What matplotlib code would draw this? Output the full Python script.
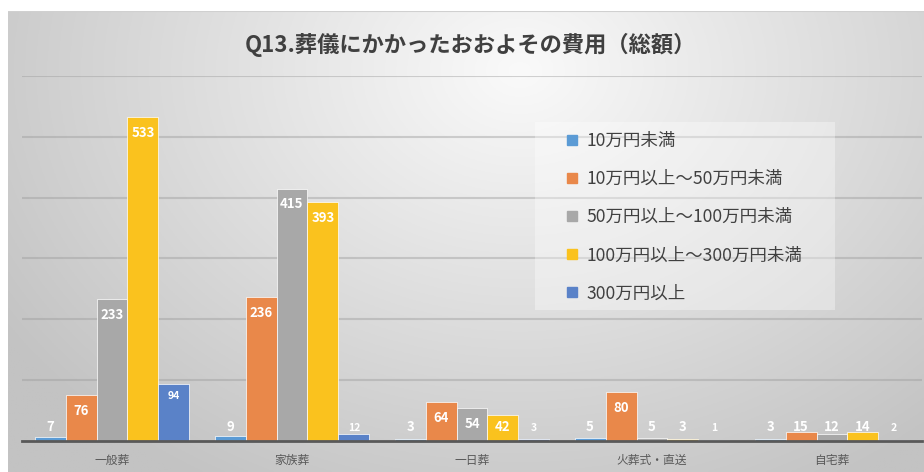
import numpy as np
import matplotlib
matplotlib.use("Agg")
import matplotlib.pyplot as plt
from matplotlib.lines import Line2D
from matplotlib.patches import Rectangle

plt.rcParams['font.family'] = ['Noto Sans CJK JP', 'DejaVu Sans']

# data
categories = ["一般葬", "家族葬", "一日葬", "火葬式・直送", "自宅葬"]
series_names = ["10万円未満", "10万円以上～50万円未満", "50万円以上～100万円未満",
                "100万円以上～300万円未満", "300万円以上"]
under_10 = [7, 9, 3, 5, 3]
from_10_to_50 = [76, 236, 64, 80, 15]
from_50_to_100 = [233, 415, 54, 5, 12]
from_100_to_300 = [533, 393, 42, 3, 14]
over_300 = [94, 12, 3, 1, 2]

SERIES = [under_10, from_10_to_50, from_50_to_100, from_100_to_300, over_300]
COLORS = ["#5B9BD5", "#E9884A", "#A8A8A8", "#FAC21E", "#5A82C8"]

W, H = 924, 472
fig = plt.figure(figsize=(W / 100, H / 100), dpi=100)

# radial grey gradient behind the chart area
bg = fig.add_axes([8 / W, 0, (W - 8) / W, (H - 11) / H], zorder=-5)
xs = np.linspace(8, W, 400)
ys = np.linspace(11, H, 240)
XX, YY = np.meshgrid(xs, ys)
dist = np.sqrt(((XX - 520) / 620) ** 2 + ((YY - 70) / 480) ** 2)
shade = (250 - 55 * np.clip(dist, 0, 1)) / 255.0
img = np.dstack([shade, shade, shade])
bg.imshow(img, aspect="auto", extent=[0, 1, 0, 1], origin="upper")
bg.axhline(1, color="#D0D0D0", linewidth=1.5)
bg.set_axis_off()

ax = fig.add_axes([22 / W, (H - 441) / H, 900 / W, 365 / H])
ax.set_facecolor("none")

x = np.arange(len(categories))
bar_w = 0.172
for idx, values in enumerate(SERIES):
    pos = x + (idx - 2) * bar_w
    ax.bar(pos, values, bar_w, color=COLORS[idx], edgecolor="white",
           linewidth=0.5, zorder=3)
    for px, v in zip(pos, values):
        if idx < 4:
            ty = max(v - 26, 23)
            size = 9.5
        else:
            ty = max(v - 20, 21)
            size = 7.5
        ax.text(px, ty, str(v), ha="center", va="center", color="white",
                fontsize=size, fontweight="bold", zorder=4)

ax.set_xlim(-0.5, 4.5)
ax.set_ylim(0, 600)
ax.set_yticks(np.arange(100, 601, 100))
ax.yaxis.grid(True, color="#9E9E9E", alpha=0.45, linewidth=1.5, zorder=0)
ax.tick_params(axis="y", left=False, labelleft=False)
ax.tick_params(axis="x", bottom=False, colors="#595959", labelsize=8.5, pad=6)
ax.set_xticks(x)
ax.set_xticklabels(categories)
for side in ["left", "right", "top"]:
    ax.spines[side].set_visible(False)
ax.spines["bottom"].set_color("#595959")
ax.spines["bottom"].set_linewidth(2)
ax.spines["bottom"].set_zorder(5)

fig.text(470 / W, 1 - 45 / H, "Q13.葬儀にかかったおおよその費用（総額）",
         ha="center", va="center", fontsize=16, fontweight="bold", color="#404040")

# legend area box (Excel legend is larger than its entries)
fig.patches.append(Rectangle((535 / W, 1 - 310 / H), 300 / W, 188 / H,
                             transform=fig.transFigure, facecolor="white",
                             alpha=0.35, edgecolor="none", zorder=1))

handles = [Line2D([], [], marker="s", linestyle="none", markersize=7,
                  color=c) for c in COLORS]
leg = fig.legend(handles, series_names, loc="upper left",
                 bbox_to_anchor=(565 / W, 1 - 132 / H), fontsize=12.6,
                 frameon=False, labelspacing=1.15, handlelength=0.8,
                 handletextpad=0.45, borderpad=0, borderaxespad=0)
for t in leg.get_texts():
    t.set_color("#404040")

fig.savefig("out.png", dpi=100)
